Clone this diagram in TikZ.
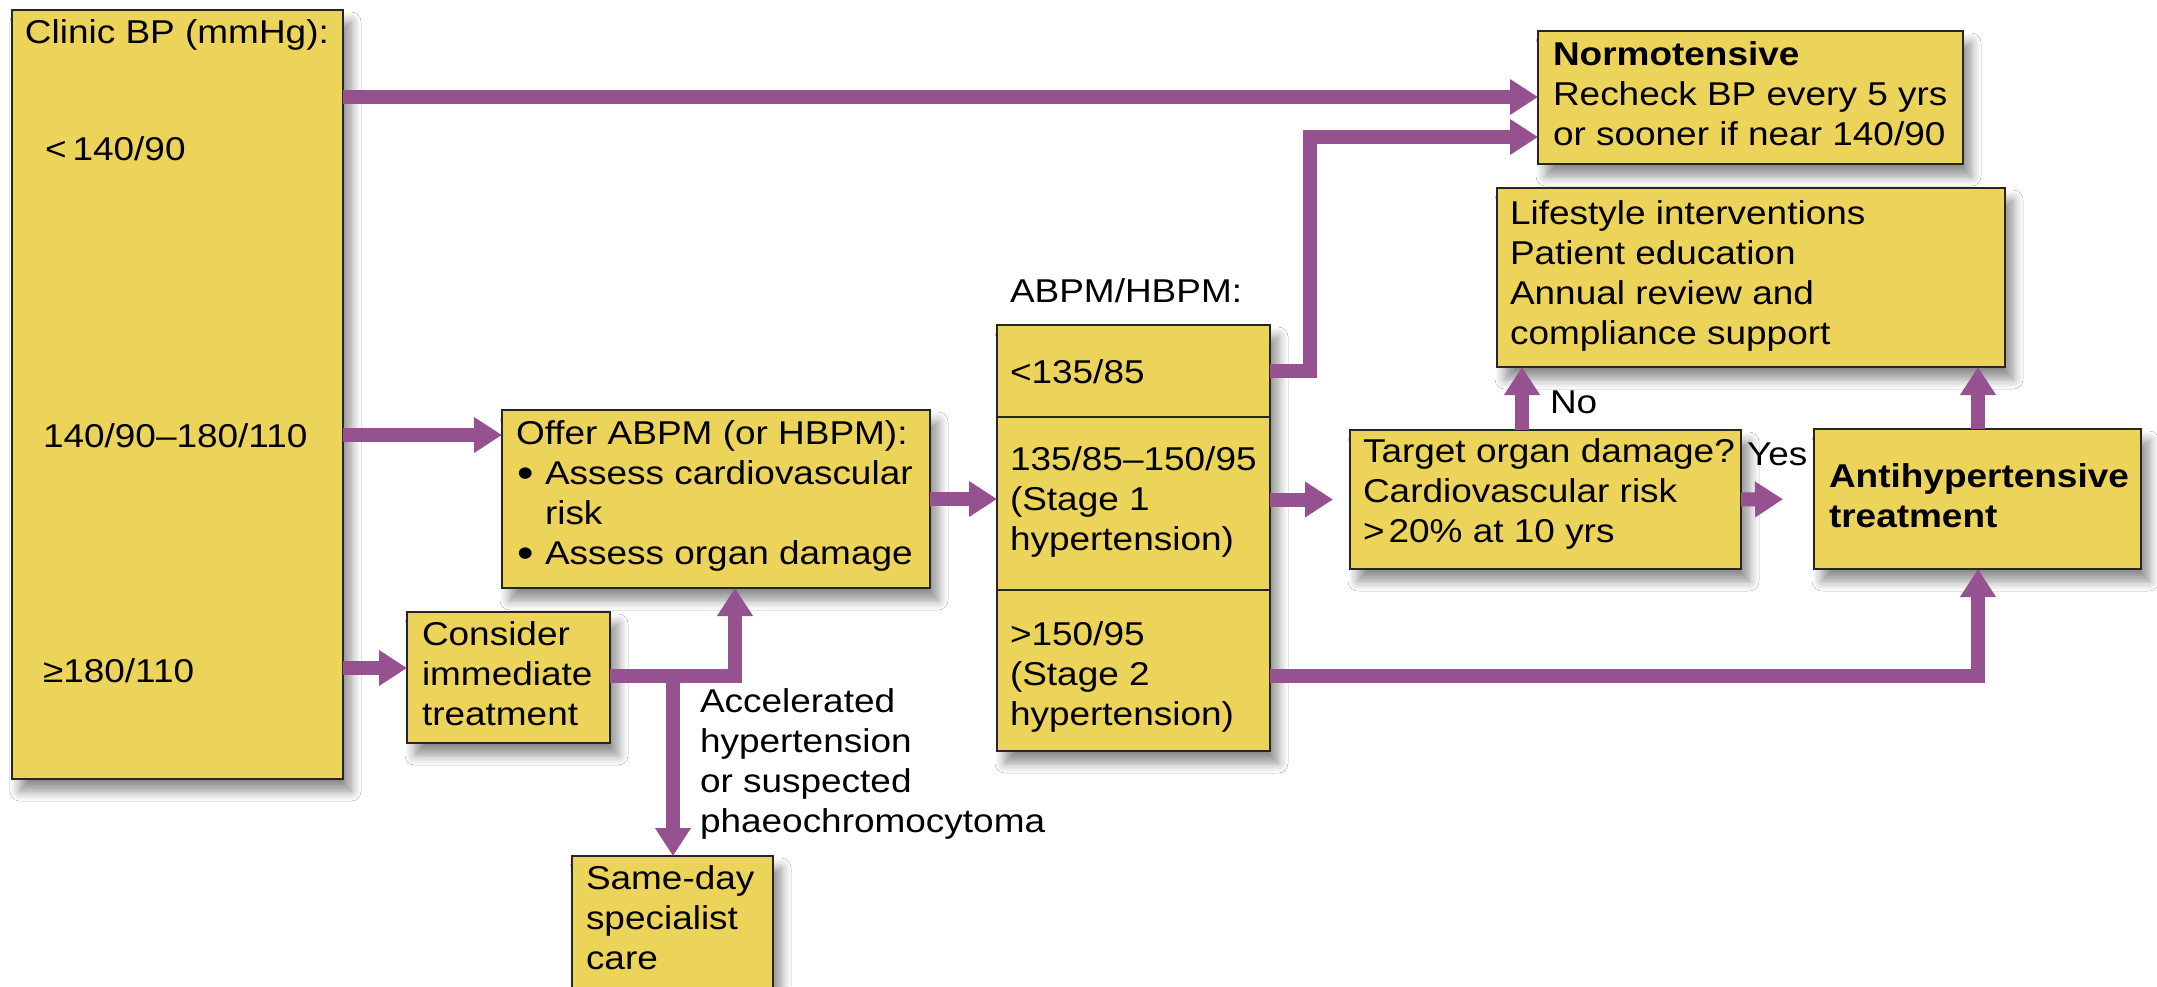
\documentclass[tikz,border=0pt]{standalone}
\usepackage{fontspec}
\setmainfont{Liberation Sans}[FakeStretch=1.12]
\usetikzlibrary{arrows.meta,shadows,shadows.blur}
\definecolor{boxc}{RGB}{236,211,89}
\definecolor{arrc}{RGB}{150,81,145}
\newcommand\firststrut{\rule{0pt}{13pt}}
\newcommand\bigbul{\makebox[14.5pt][l]{\hspace{0.5pt}\raisebox{-1.2pt}{\fontsize{21pt}{20pt}\selectfont •}}}
\begin{document}
\begin{tikzpicture}[x=0.5pt,y=-0.5pt,
  box/.style={draw=black!85, line width=1pt, fill=boxc, anchor=north west, inner sep=0pt, outer sep=0pt},
  shbox/.style={box, blur shadow={shadow xshift=4pt, shadow yshift=-6pt, shadow blur radius=5pt, shadow blur steps=8, shadow opacity=45}},
  txt/.style={anchor=north west, inner sep=0pt, outer sep=0pt, align=left, yshift=13pt,
    font=\fontsize{16.5pt}{20pt}\selectfont, execute at begin node=\firststrut},
  flow/.style={draw=arrc, line width=7pt, -{Triangle[length=14pt,width=17pt]}}
]
\useasboundingbox[fill=white] (0,0) rectangle (2157,986);

% boxes
\node[shbox, minimum width=165.5pt, minimum height=384.5pt] (clinic) at (12,10) {};
\node[shbox, minimum width=212.5pt, minimum height=66.5pt] (normo) at (1538,31) {};
\node[shbox, minimum width=254pt, minimum height=89.5pt] (life) at (1497,188) {};
\node[shbox, minimum width=136.5pt, minimum height=213pt] (abpm) at (997,325) {};
\node[box, minimum width=136.5pt, minimum height=46pt] (abpm1) at (997,325) {};
\node[box, minimum width=136.5pt, minimum height=86.5pt] (abpm2) at (997,417) {};
\node[box, minimum width=136.5pt, minimum height=80.5pt] (abpm3) at (997,590) {};
\node[shbox, minimum width=214pt, minimum height=89pt] (offer) at (502,410) {};
\node[shbox, minimum width=101.5pt, minimum height=65.5pt] (consider) at (407,612) {};
\node[shbox, minimum width=100.5pt, minimum height=72pt] (sameday) at (572,856) {};
\node[shbox, minimum width=195.5pt, minimum height=69.5pt] (target) at (1350,430) {};
\node[shbox, minimum width=163.5pt, minimum height=70pt] (antihyp) at (1814,429) {};

% texts
\node[txt] (tclinic) at (25,43) {Clinic BP (mmHg):};
\node[txt] (tlow) at (45,160) {<\hspace{3pt}140/90};
\node[txt] (tmid) at (43,447) {140/90–180/110};
\node[txt] (thigh) at (43,682) {≥180/110};
\node[txt] (tnormo) at (1553,68) {\textbf{Normotensive}\\Recheck BP every 5 yrs\\or sooner if near 140/90};
\node[txt] (tlife) at (1510,227) {Lifestyle interventions\\Patient education\\Annual review and\\compliance support};
\node[txt] (tabpm) at (1010,302) {ABPM/HBPM:};
\node[txt] (tabpm1) at (1010,383) {<135/85};
\node[txt] (tabpm2) at (1010,473) {135/85–150/95\\(Stage 1\\hypertension)};
\node[txt] (tabpm3) at (1010,648) {>150/95\\(Stage 2\\hypertension)};
\node[txt] (toffer) at (516,447) {Offer ABPM (or HBPM):\\\bigbul Assess cardiovascular\\\hspace*{14.5pt}risk\\\bigbul Assess organ damage};
\node[txt] (tconsider) at (422,648) {Consider\\immediate\\treatment};
\node[txt] (taccel) at (700,715) {Accelerated\\hypertension\\or suspected\\phaeochromocytoma};
\node[txt] (tsameday) at (586,892) {Same-day\\specialist\\care};
\node[txt] (ttarget) at (1363,465) {Target organ damage?\\Cardiovascular risk\\>\hspace{2pt}20\% at 10 yrs};
\node[txt] (tyes) at (1747,465) {Yes};
\node[txt] (tno) at (1550,413) {No};
\node[txt] (tanti) at (1829,490) {\textbf{Antihypertensive}\\\textbf{treatment}};

% helper coordinates
\coordinate (y97) at (0,97);
\coordinate (c137) at (1310,137);
\coordinate (y435) at (0,435);
\coordinate (y668) at (0,668);
\coordinate (y676) at (0,676);
\coordinate (cx) at (735,0);
\coordinate (bx) at (673,676);
\coordinate (rx) at (1978,0);
\coordinate (nx) at (1522,0);

% connectors
\draw[flow] (clinic.east |- y97) -- (normo.west |- y97);
\draw[flow] (abpm1.east) -| (c137) -- (normo.west |- c137);
\draw[flow] (clinic.east |- y435) -- (offer.west |- y435);
\draw[flow] (clinic.east |- y668) -- (consider.west |- y668);
\draw[flow] (offer.east) -- (abpm2.west |- offer.east);
\draw[flow] (consider.east |- y676) -| (offer.south -| cx);
\draw[flow] (bx) -- (sameday.north -| bx);
\draw[flow, shorten >=8.5pt] (abpm2.east |- target.west) -- (target.west);
\draw[flow, shorten >=15.5pt] (target.east) -- (antihyp.west);
\draw[flow] (target.north -| nx) -- (life.south -| nx);
\draw[flow] (antihyp.north -| rx) -- (life.south -| rx);
\draw[flow] (abpm3.east |- y676) -| (antihyp.south -| rx);
\end{tikzpicture}
\end{document}
